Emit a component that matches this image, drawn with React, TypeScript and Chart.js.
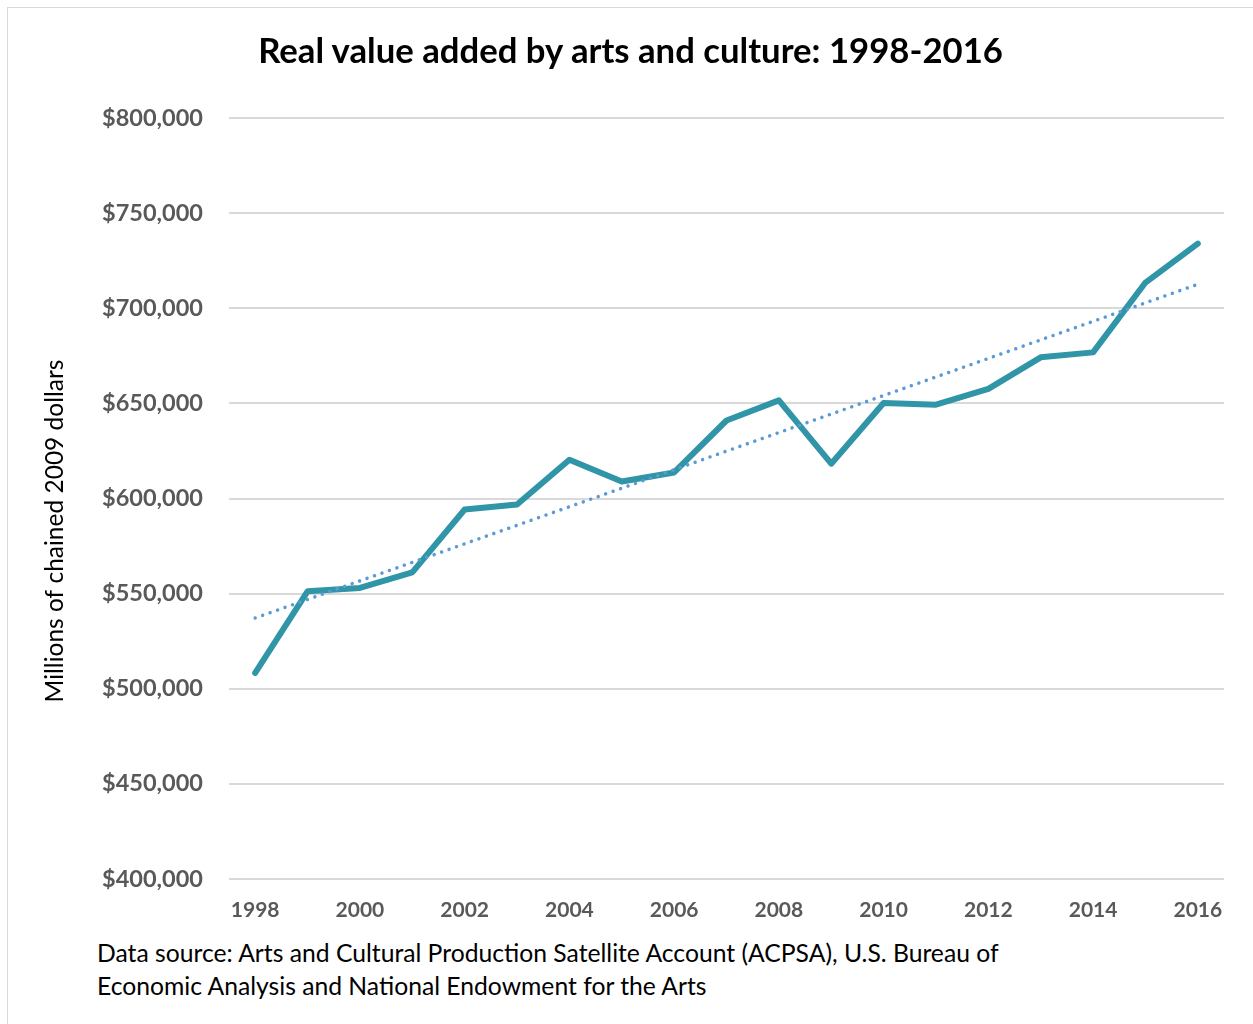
import React, { useEffect, useRef } from "react";
import { Chart, registerables } from "chart.js";

Chart.register(...registerables);

const years = ["1998","1999","2000","2001","2002","2003","2004","2005","2006","2007","2008","2009","2010","2011","2012","2013","2014","2015","2016"];
const realValueAdded = [508300, 551200, 553000, 561200, 594200, 596800, 620400, 608900, 613700, 641000, 651600, 618300, 650200, 649300, 657600, 674200, 676800, 713500, 734000];
const trendStart = 537200;
const trendEnd = 712600;
const yMin = 400000;
const yMax = 800000;
const yStep = 50000;
const titleText = "Real value added by arts and culture: 1998-2016";
const yAxisTitle = "Millions of chained 2009 dollars";
const sourceLine1 = "Data source: Arts and Cultural Production Satellite Account (ACPSA), U.S. Bureau of";
const sourceLine2 = "Economic Analysis and National Endowment for the Arts";

const FONT = "Lato, 'Open Sans', sans-serif";

export default function App() {
  const canvasRef = useRef<HTMLCanvasElement | null>(null);

  useEffect(() => {
    document.body.style.overflow = "hidden";
    const canvas = canvasRef.current;
    if (!canvas) return;
    const trendData = years.map((_, i) => (i === 0 ? trendStart : i === years.length - 1 ? trendEnd : null));

    const yTitlePlugin = {
      id: "yTitlePlugin",
      afterDraw(chart: any) {
        const ctx = chart.ctx;
        ctx.save();
        ctx.translate(47, 523);
        ctx.rotate(-Math.PI / 2);
        ctx.textAlign = "center";
        ctx.textBaseline = "middle";
        ctx.font = `24.5px ${FONT}`;
        ctx.fillStyle = "#000000";
        ctx.fillText(yAxisTitle, 0, 0);
        ctx.restore();
      },
    };

    const chart = new Chart(canvas, {
      type: "line",
      data: {
        labels: years,
        datasets: [
          {
            label: "Linear trend",
            data: trendData,
            spanGaps: true,
            borderColor: "#5b9bd5",
            borderWidth: 3.5,
            borderDash: [0.01, 7.9],
            borderCapStyle: "round",
            pointRadius: 0,
            fill: false,
            order: 0,
          },
          {
            label: "Real value added",
            data: realValueAdded,
            borderColor: "#3195a8",
            borderWidth: 6,
            borderCapStyle: "round",
            borderJoinStyle: "round",
            pointRadius: 0,
            tension: 0,
            fill: false,
            order: 1,
          },
        ],
      },
      options: {
        animation: false,
        responsive: false,
        maintainAspectRatio: false,
        layout: { padding: { top: 110, right: 29, left: 0, bottom: 0 } },
        plugins: {
          legend: { display: false },
          title: { display: false },
          tooltip: { enabled: false },
        },
        scales: {
          x: {
            type: "category",
            offset: true,
            grid: { display: false, drawTicks: false },
            border: { display: false },
            ticks: {
              autoSkip: false,
              maxRotation: 0,
              minRotation: 0,
              padding: 19,
              color: "#595959",
              font: { family: FONT, size: 21, weight: "bold" },
              callback: (_v: any, i: number) => (i % 2 === 0 ? years[i] : ""),
            },
            afterFit: (scale: any) => {
              scale.height = 50;
            },
          },
          y: {
            min: yMin,
            max: yMax,
            grid: { color: "#d9d9d9", lineWidth: 2, drawTicks: false },
            border: { display: false },
            ticks: {
              stepSize: yStep,
              padding: 26,
              color: "#595959",
              font: { family: FONT, size: 23.5, weight: "bold" },
              callback: (v: any) => "$" + Number(v).toLocaleString("en-US"),
            },
            afterFit: (scale: any) => {
              scale.width = 221;
            },
          },
        },
      },
      plugins: [yTitlePlugin],
    } as any);
    return () => chart.destroy();
  }, []);

  return (
    <div
      style={{
        position: "absolute",
        left: 7,
        top: 7,
        width: 1246,
        height: 1017,
        borderLeft: "1px solid #d9d9d9",
        borderTop: "1px solid #d9d9d9",
        overflow: "hidden",
        background: "#fff",
      }}
    >
      <canvas ref={canvasRef} width={1245} height={921} style={{ position: "absolute", left: 0, top: 0 }} />
      <div
        style={{
          position: "absolute",
          left: 0,
          width: 1245,
          top: 24,
          textAlign: "center",
          fontFamily: FONT,
          fontWeight: 700,
          fontSize: 34.7,
          lineHeight: "35px",
          color: "#000",
          whiteSpace: "nowrap",
        }}
      >
        {titleText}
      </div>
      <div
        style={{
          position: "absolute",
          left: 89,
          top: 928,
          fontFamily: FONT,
          fontSize: 24.7,
          lineHeight: "33px",
          color: "#000",
          whiteSpace: "nowrap",
        }}
      >
        <div>{sourceLine1}</div>
        <div>{sourceLine2}</div>
      </div>
    </div>
  );
}
